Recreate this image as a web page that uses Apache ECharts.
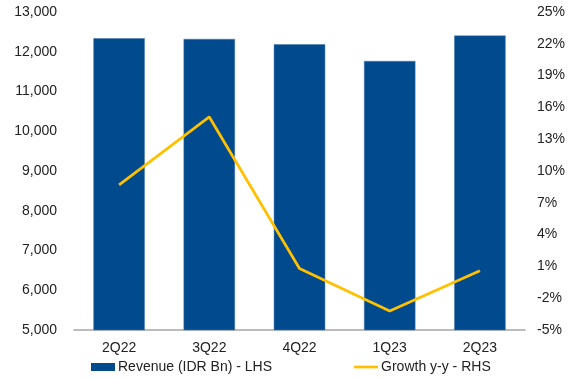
<!DOCTYPE html>
<html>
<head>
<meta charset="utf-8">
<script src="https://cdn.jsdelivr.net/npm/echarts@6/dist/echarts.min.js"></script>
<style>
  html, body { margin: 0; padding: 0; background: #ffffff; }
  #chart { width: 574px; height: 378px; }
</style>
</head>
<body>
<div id="chart"></div>
<script>
// Quarterly revenue (IDR Bn, left axis) and y-y growth (%, right axis)
const quarters = ['2Q22', '3Q22', '4Q22', '1Q23', '2Q23'];
const revenue = [12340, 12323, 12189, 11768, 12407];
const growth = [8.7, 15.1, 0.8, -3.2, 0.6];

const revenueName = 'Revenue (IDR Bn) - LHS';
const growthName = 'Growth y-y - RHS';

const barColor = '#004a8d';
const lineColor = '#ffc000';
const font = 'Liberation Sans, Arial, sans-serif';
const chart = echarts.init(document.getElementById('chart'), null, { renderer: 'canvas' });

chart.setOption({
  animation: false,
  backgroundColor: '#ffffff',
  grid: { left: 74, right: 49, top: 12, bottom: 48, containLabel: false },
  legend: {
    left: 91,
    top: 360,
    padding: 0,
    itemGap: 82,
    itemWidth: 24,
    itemHeight: 8,
    textStyle: { fontFamily: font, fontSize: 14, color: '#222222', padding: [0, 0, 0, -2] },
    data: [
      { name: revenueName, icon: 'rect', itemStyle: { color: barColor, borderWidth: 0 } },
      { name: growthName, icon: 'path://M0 0H24V2.7H0Z', itemStyle: { color: lineColor, borderWidth: 0 } }
    ]
  },
  xAxis: {
    type: 'category',
    data: quarters,
    axisTick: { show: false },
    axisLine: { onZero: false, lineStyle: { color: '#a6a6a6', width: 1.5 } },
    axisLabel: { fontFamily: font, fontSize: 14, color: '#222222', margin: 11 }
  },
  yAxis: [
    {
      type: 'value',
      min: 5000,
      max: 13000,
      interval: 1000,
      axisLine: { show: false },
      axisTick: { show: false },
      splitLine: { show: false },
      axisLabel: {
        fontFamily: font, fontSize: 14, color: '#222222', margin: 17,
        formatter: v => v.toLocaleString('en-US')
      }
    },
    {
      type: 'value',
      min: -5,
      max: 25,
      interval: 3,
      axisLine: { show: false },
      axisTick: { show: false },
      splitLine: { show: false },
      axisLabel: {
        fontFamily: font, fontSize: 14, color: '#222222', margin: 12,
        formatter: v => v + '%'
      }
    }
  ],
  series: [
    {
      name: revenueName,
      type: 'bar',
      yAxisIndex: 0,
      data: revenue,
      barWidth: '57%',
      itemStyle: { color: barColor, borderColor: '#4a7db0', borderWidth: 0.5 }
    },
    {
      name: growthName,
      type: 'line',
      yAxisIndex: 1,
      data: growth,
      symbol: 'none',
      showSymbol: false,
      lineStyle: { color: lineColor, width: 2.75 },
      itemStyle: { color: lineColor },
      z: 5
    }
  ]
});
</script>
</body>
</html>
